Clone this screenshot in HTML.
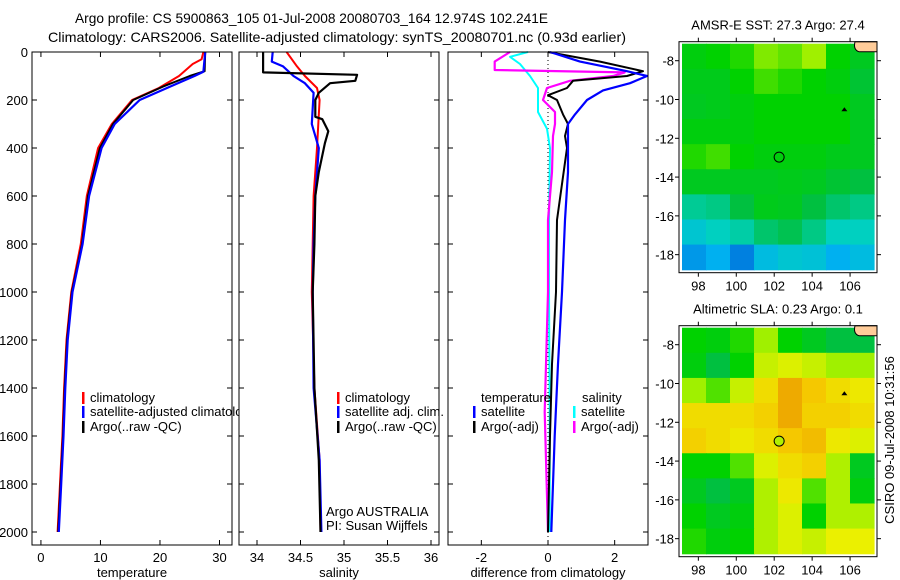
<!DOCTYPE html>
<html><head><meta charset="utf-8"><style>
html,body{margin:0;padding:0;background:#fff;}
svg{display:block;font-family:"Liberation Sans",sans-serif;}
</style></head><body>
<svg id="fig" width="900" height="580" viewBox="0 0 900 580" xmlns="http://www.w3.org/2000/svg">
<text x="75" y="23" font-size="14" textLength="473" lengthAdjust="spacingAndGlyphs">Argo profile: CS 5900863_105 01-Jul-2008 20080703_164 12.974S 102.241E</text>
<text x="48" y="42" font-size="14" textLength="578" lengthAdjust="spacingAndGlyphs">Climatology: CARS2006. Satellite-adjusted climatology: synTS_20080701.nc (0.93d earlier)</text>
<g id="root"></g>
<text transform="translate(894,440) rotate(-90)" text-anchor="middle" font-size="13">CSIRO 09-Jul-2008 10:31:56</text>
</svg>
<script>
// ---- profile data ----
const tClimD = [0,30,50,100,150,200,300,400,600,800,1000,1200,1400,1600,1800,2000];
const tClimV = [27.3,27.0,25.5,23.2,19.8,15.3,11.9,9.6,7.7,6.7,5.1,4.3,3.9,3.6,3.2,2.8];
const tSatD = [0,82,100,144,200,300,400,600,800,1000,1200,1400,1600,1800,2000];
const tSatV = [27.6,27.3,25.8,21.7,16.6,12.4,10.2,8.1,7.0,5.3,4.5,4.1,3.8,3.4,3.0];
const tArgoD = [0,80,100,144,200,300,400,600,800,1000,1200,1400,1600,1800,2000];
const tArgoV = [27.6,27.5,25.0,20.5,15.5,12.1,9.9,7.9,6.9,5.2,4.4,4.0,3.7,3.3,2.9];

const sClimD = [0,60,100,150,200,400,600,800,1000,1400,1700,2000];
const sClimV = [34.34,34.46,34.55,34.69,34.72,34.69,34.65,34.64,34.63,34.66,34.72,34.73];
const sSatD = [0,40,60,100,130,170,300,400,600,800,1000,1400,1700,2000];
const sSatV = [34.18,34.17,34.30,34.42,34.55,34.65,34.63,34.71,34.67,34.65,34.64,34.65,34.72,34.74];
const sArgoD = [0,85,95,120,130,170,200,270,280,330,380,500,600,800,1000,1400,1700,2000];
const sArgoV = [34.07,34.07,35.15,35.13,34.84,34.71,34.67,34.67,34.75,34.82,34.78,34.71,34.67,34.66,34.64,34.66,34.71,34.73];

const dTSatD = [0,40,80,100,130,160,200,260,300,500,700,1000,1300,1600,2000];
const dTSatV = [0.06,0.96,2.37,2.97,2.46,1.65,1.17,0.81,0.6,0.6,0.51,0.42,0.3,0.2,0.1];
const dTArgoD = [0,40,80,100,120,150,180,200,260,300,350,400,700,1000,1300,1600,2000];
const dTArgoV = [0,1.56,2.85,2.37,0.75,0.57,0,0.27,0.45,0.6,0.51,0.57,0.27,0.24,0.12,0.06,0];
const dSArgoD = [0,40,75,85,100,120,150,200,250,300,350,500,700,1000,1500,2000];
const dSArgoV = [-1.14,-1.6,-1.6,2.3,1.95,0.66,-0.03,-0.15,0.21,0.21,0.15,0.12,0,0,-0.1,0];
const dSSatD = [0,20,50,100,150,250,320,400,700,1000,1500,2000];
const dSSatV = [-0.6,-1.14,-0.84,-0.54,-0.3,-0.3,-0.03,0.06,0.03,0.03,0.05,0.05];

const depthTicks = [0,200,400,600,800,1000,1200,1400,1600,1800,2000];
const tempTicks = [0,10,20,30];
const salTicks = [34,34.5,35,35.5,36];
const salTickLabels = ["34","34.5","35","35.5","36"];
const diffTicks = [-2,0,2];
const lonTicks = [98,100,102,104,106];
const latTicks = [-8,-10,-12,-14,-16,-18];

// map values (0..1 on colour scale), rows north->south, cols west->east
const sstGrid = [
 [.58,.6,.62,.68,.66,.7,.6,.55],
 [.56,.56,.6,.64,.62,.6,.58,.52],
 [.55,.56,.58,.6,.6,.6,.6,.55],
 [.58,.58,.58,.6,.6,.6,.6,.55],
 [.62,.64,.6,.58,.58,.58,.56,.55],
 [.55,.55,.55,.55,.56,.55,.52,.5],
 [.4,.42,.5,.56,.55,.5,.45,.42],
 [.3,.35,.38,.45,.48,.42,.35,.35],
 [.15,.2,.1,.25,.3,.28,.2,.25]];
const slaGrid = [
 [.6,.58,.62,.7,.6,.55,.5,.5],
 [.58,.5,.6,.75,.78,.75,.7,.7],
 [.7,.65,.75,.85,.95,.9,.85,.82],
 [.85,.85,.85,.88,.95,.88,.88,.85],
 [.88,.85,.82,.85,.9,.92,.82,.78],
 [.6,.6,.65,.78,.85,.88,.72,.55],
 [.55,.5,.55,.72,.82,.65,.72,.58],
 [.6,.55,.58,.72,.78,.6,.72,.72],
 [.62,.58,.6,.72,.78,.75,.8,.8]];

const NS = "http://www.w3.org/2000/svg";
const root = document.getElementById('root');
function el(tag, attrs, parent){ const e=document.createElementNS(NS,tag); for(const k in attrs) e.setAttribute(k,attrs[k]); (parent||root).appendChild(e); return e; }
function txt(x,y,s,anchor,size,parent){ const t=el('text',{x:x,y:y,'text-anchor':anchor||'start','font-size':size||13},parent); t.textContent=s; return t; }

const Y0=52, YB=545;
function yD(d){ return Y0 + d*0.24; }

function panel(name,x0,x1,xmin,xmax,xt,xtl,xlabel,showY){
  const g = el('g',{});
  
  
  el('rect',{x:x0,y:Y0,width:x1-x0,height:YB-Y0,fill:'#fff',stroke:'none'},g);
  const sx = v => x0 + (v-xmin)/(xmax-xmin)*(x1-x0);
  xt.forEach((v,i)=>{
    const x=sx(v);
    el('line',{x1:x,x2:x,y1:YB,y2:YB-5,stroke:'#000'},g);
    el('line',{x1:x,x2:x,y1:Y0,y2:Y0+5,stroke:'#000'},g);
    const t=txt(x,562,xtl[i],'middle',13,g);
    
    
  });
  depthTicks.forEach(d=>{
    const y=yD(d);
    el('line',{x1:x0,x2:x0+5,y1:y,y2:y,stroke:'#000'},g);
    el('line',{x1:x1,x2:x1-5,y1:y,y2:y,stroke:'#000'},g);
    if(showY){ const t=txt(x0-4,y+5,String(d),'end',13,g);
      
       }
  });
  const xl=txt((x0+x1)/2,577,xlabel,'middle',13,g);
  
  
  return {g,sx,x0,x1};
}
function series(p,D,V,color,w,name){
  const pts=D.map((d,i)=>p.sx(V[i]).toFixed(1)+','+yD(d).toFixed(1)).join(' ');
  const l=el('polyline',{points:pts,fill:'none',stroke:color,'stroke-width':w,'stroke-linejoin':'round'},p.g);
  
  
}
function frame(p){ el('rect',{x:p.x0,y:Y0,width:p.x1-p.x0,height:YB-Y0,fill:'none',stroke:'#000','stroke-width':1},p.g); }
function legend(p,x,y,color,label){
  el('rect',{x:x,y:y-10,width:2.5,height:12,fill:color},p.g);
  const t=txt(x+8,y,label,'start',13,p.g);
  
  
}

// panel 1 temperature
const p1=panel('temperature-panel',32,232,-1.5,32.1,tempTicks,tempTicks.map(String),'temperature',true);
series(p1,tClimD,tClimV,'#f00',2,'temperature-climatology-line');
series(p1,tArgoD,tArgoV,'#000',2,'temperature-argo-line');
series(p1,tSatD,tSatV,'#00f',2.2,'temperature-satellite-line');
legend(p1,82,402,'#f00','climatology');
legend(p1,82,416,'#00f','satellite-adjusted climatology');
legend(p1,82,431,'#000','Argo(..raw -QC)');
frame(p1);

// panel 2 salinity
const p2=panel('salinity-panel',239,439,33.793,36.092,salTicks,salTickLabels,'salinity',false);
series(p2,sClimD,sClimV,'#f00',2,'salinity-climatology-line');
series(p2,sSatD,sSatV,'#00f',2.2,'salinity-satellite-line');
series(p2,sArgoD,sArgoV,'#000',2.2,'salinity-argo-line');
legend(p2,337,402,'#f00','climatology');
legend(p2,337,416,'#00f','satellite adj. clim.');
legend(p2,337,431,'#000','Argo(..raw -QC)');
{const a=txt(326,516,'Argo AUSTRALIA','start',13,p2.g);  
 const b=txt(326,530,'PI: Susan Wijffels','start',13,p2.g);  }
frame(p2);

// panel 3 differences
const p3=panel('difference-panel',448,648,-3,3,diffTicks,diffTicks.map(String),'difference from climatology',false);
el('line',{x1:p3.sx(0),x2:p3.sx(0),y1:Y0,y2:YB,stroke:'#000','stroke-dasharray':'1,3'},p3.g);
series(p3,dSSatD,dSSatV,'#0ff',2,'salinity-satellite-diff-line');
series(p3,dSArgoD,dSArgoV,'#f0f',2.2,'salinity-argo-diff-line');
series(p3,dTArgoD,dTArgoV,'#000',2,'temperature-argo-diff-line');
series(p3,dTSatD,dTSatV,'#00f',2.2,'temperature-satellite-diff-line');
{const a=txt(481,402,'temperature','start',13,p3.g);  
 const b=txt(582,402,'salinity','start',13,p3.g);  }
legend(p3,473,416,'#00f','satellite');
legend(p3,473,431,'#000','Argo(-adj)');
legend(p3,573,416,'#0ff','satellite');
legend(p3,573,431,'#f0f','Argo(-adj)');
frame(p3);

// ---- maps ----
const cstops=[[0,[0,80,208]],[0.2,[0,176,240]],[0.35,[0,208,192]],[0.5,[0,192,64]],[0.6,[0,210,0]],[0.7,[160,240,0]],[0.8,[235,240,0]],[0.9,[245,200,0]],[1,[230,140,0]]];
function cmap(v){
  for(let i=1;i<cstops.length;i++){ if(v<=cstops[i][0]){ const a=cstops[i-1],b=cstops[i]; const f=(v-a[0])/(b[0]-a[0]);
    const c=a[1].map((x,k)=>Math.round(x+(b[1][k]-x)*f)); return 'rgb('+c.join(',')+')'; } }
  return 'rgb(230,140,0)';
}
function map(name,top,grid,title,circleFill){
  const g=el('g',{});
  
  
  const L=679,R=877,B=top+231;
  const lonMin=96.98,lonMax=107.42,latTop=-7.02,latBot=-18.93;
  const sx=lo=>L+(lo-lonMin)/(lonMax-lonMin)*(R-L);
  const sy=la=>top+(la-latTop)/(latBot-latTop)*(B-top);
  const rows=grid.length, cols=grid[0].length;
  const iL=L+3,iR=R-3,iT=top+2,iB=B-3;
  const cw=(iR-iL)/cols, ch=(iB-iT)/rows;
  grid.forEach((row,r)=>row.forEach((v,c)=>{
    const cell=el('rect',{x:iL+c*cw,y:iT+r*ch,width:cw+0.6,height:ch+0.6,fill:cmap(v)},g);
    
    
  }));
  el('path',{d:`M${R} ${top} L${R-22} ${top} Q${R-24} ${top+8} ${R-18} ${top+10} L${R} ${top+10} Z`,fill:'#ffcc99',stroke:'#000','stroke-width':1},g);
  el('rect',{x:L,y:top,width:R-L,height:B-top,fill:'none',stroke:'#000'},g);
  lonTicks.forEach(lo=>{const x=sx(lo); el('line',{x1:x,x2:x,y1:top,y2:top-4,stroke:'#000'},g); el('line',{x1:x,x2:x,y1:B,y2:B+4,stroke:'#000'},g);
    const t=txt(x,B+18,String(lo),'middle',13,g);  });
  latTicks.forEach(la=>{const y=sy(la); el('line',{x1:L,x2:L-4,y1:y,y2:y,stroke:'#000'},g); el('line',{x1:R,x2:R+4,y1:y,y2:y,stroke:'#000'},g);
    const t=txt(L-5,y+5,String(la),'end',13,g);  });
  const c=el('circle',{cx:sx(102.26),cy:sy(-12.97),r:5,fill:circleFill,stroke:'#000','stroke-width':1},g);
  
  
  el('path',{d:`M${sx(105.7)-3} ${sy(-10.5)+2} L${sx(105.7)} ${sy(-10.5)-2} L${sx(105.7)+3} ${sy(-10.5)+2} Z`,fill:'#000'},g);
  const t=txt(778,top-12,title,'middle',13,g);
  
  
}
map('sst-map',41.7,sstGrid,'AMSR-E SST: 27.3 Argo: 27.4','none');
map('sla-map',325.7,slaGrid,'Altimetric SLA: 0.23 Argo: 0.1','#b0f000');
</script>
</body></html>
